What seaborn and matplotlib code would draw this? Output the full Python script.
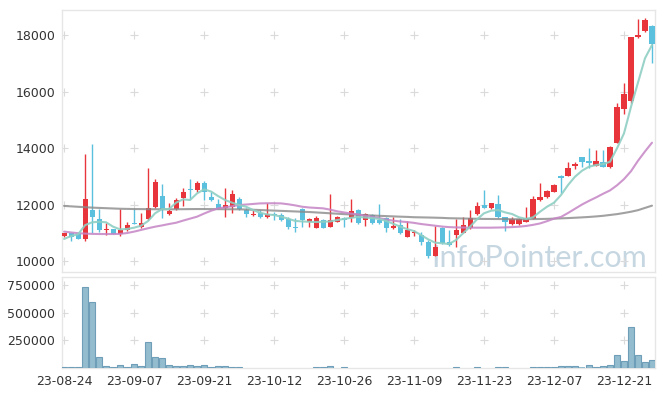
import numpy as np
import pandas as pd
import matplotlib
matplotlib.use("Agg")
import matplotlib.pyplot as plt
import seaborn as sns

# daily candles 23-08-24 ~ 23-12-28 (85 trading days)
open_ = [10880, 10980, 10960, 10780, 11800, 11490, 11100, 11130, 10950, 11080,
         11340, 11215, 11480, 11920, 12300, 11670, 11830, 12240, 12550, 12520,
         12760, 12250, 12020, 11890, 11920, 12190, 11810, 11620, 11690, 11570,
         11660, 11630, 11500, 11200, 11840, 11390, 11180, 11450, 11215, 11390,
         11510, 11530, 11810, 11450, 11630, 11450, 11510, 11160, 11270, 10860,
         10990, 10920, 10690, 10180, 11160, 10670, 10920, 11000, 11160, 11650,
         11970, 11865, 12020, 11550, 11300, 11300, 11390, 11490, 12160, 12255,
         12460, 13020, 13020, 13370, 13680, 13540, 13380, 13520, 13320, 14190,
         15370, 15650, 17920, 18150, 18320]
high = [11000, 11000, 10970, 13800, 14150, 11850, 11330, 11150, 11840, 11390,
        11840, 11690, 13280, 12900, 12720, 12050, 12230, 12570, 12890, 12840,
        12840, 12460, 12180, 12570, 12510, 12250, 11860, 11805, 11800, 12040,
        11750, 11700, 11570, 11510, 11890, 11510, 11590, 11470, 12360, 11600,
        11570, 12180, 11840, 11690, 11670, 12010, 11570, 11570, 11480, 11410,
        11100, 11030, 10750, 11240, 11210, 11100, 11480, 11570, 11800, 12100,
        12510, 12060, 12340, 11570, 11550, 11510, 11900, 12300, 12760, 12530,
        12720, 13040, 13490, 13520, 13700, 13990, 13930, 13930, 14060, 15580,
        16320, 17950, 18580, 18600, 18350]
low = [10850, 10700, 10780, 10700, 10980, 11040, 10930, 10940, 10880, 11050,
       11300, 11180, 11450, 11880, 11520, 11620, 11800, 11950, 12180, 12460,
       12160, 12140, 11830, 11550, 11690, 11790, 11550, 11600, 11530, 11540,
       11450, 11400, 11120, 11020, 11190, 11210, 11170, 11170, 11200, 11370,
       11190, 11370, 11300, 11250, 11300, 11320, 11020, 11130, 10940, 10840,
       10880, 10570, 10100, 10170, 10600, 10540, 10500, 10980, 11140, 11620,
       11860, 11850, 11520, 11070, 11280, 11280, 11370, 11470, 12140, 12230,
       12440, 12400, 13000, 13250, 13320, 13280, 13360, 13330, 13300, 14170,
       15200, 15600, 17900, 18120, 17000]
close = [10980, 10840, 10790, 12200, 11570, 11100, 11140, 10950, 11100, 11270,
         11320, 11335, 11860, 12790, 11830, 11780, 12160, 12440, 12520, 12760,
         12440, 12160, 11860, 11990, 12370, 11830, 11650, 11640, 11570, 11665,
         11620, 11450, 11190, 11180, 11450, 11480, 11530, 11180, 11450, 11550,
         11450, 11770, 11340, 11650, 11330, 11340, 11160, 11250, 10980, 11100,
         11030, 10690, 10180, 10480, 10630, 10560, 11100, 11270, 11510, 11950,
         11880, 12040, 11550, 11390, 11490, 11480, 11510, 12200, 12255, 12480,
         12690, 12950, 13290, 13430, 13500, 13480, 13550, 13340, 14050, 15460,
         15910, 17920, 18000, 18530, 17670]
volume = [10000, 10000, 10000, 734000, 598000, 102000, 21000, 12000, 30000, 12000,
          39000, 21000, 237000, 102000, 93000, 30000, 18000, 18000, 30000, 21000,
          30000, 12000, 21000, 21000, 12000, 12000, 3000, 3000, 3000, 3000,
          3000, 3000, 3000, 3000, 3000, 3000, 12000, 12000, 21000, 4000,
          12000, 3000, 3000, 3000, 3000, 3000, 3000, 3000, 3000, 3000,
          3000, 3000, 3000, 3000, 3000, 3000, 12000, 3000, 3000, 12000,
          3000, 3000, 12000, 12000, 3000, 3000, 3000, 12000, 12000, 12000,
          12000, 21000, 21000, 21000, 6000, 30000, 12000, 21000, 30000, 117000,
          66000, 367000, 117000, 57000, 75000]

# moving averages as drawn
ma5 = [10780, 10885, 10945, 11270, 11370, 11390, 11370, 11215, 11120, 11133,
       11180, 11250, 11416, 11690, 11840, 11840, 12065, 12184, 12160, 12395,
       12537, 12460, 12300, 12160, 12065, 11982, 11922, 11805, 11710, 11650,
       11628, 11570, 11500, 11420, 11400, 11390, 11380, 11390, 11400, 11450,
       11490, 11530, 11560, 11540, 11520, 11490, 11420, 11320, 11220, 11130,
       11060, 10920, 10770, 10650, 10627, 10602, 10743, 10980, 11215, 11476,
       11690, 11780, 11805, 11722, 11664, 11547, 11490, 11547, 11745, 11922,
       12065, 12336, 12690, 12985, 13197, 13340, 13400, 13430, 13515, 13990,
       14520, 15460, 16320, 17180, 17650]
ma20 = [11040, 11010, 10985, 10970, 10960, 10955, 10955, 10955, 10960, 10990,
        11040, 11100, 11160, 11215, 11260, 11310, 11355, 11430, 11500, 11570,
        11680, 11780, 11865, 11900, 11940, 11982, 12000, 12020, 12040, 12045,
        12045, 12040, 12010, 11970, 11922, 11895, 11880, 11865, 11820, 11760,
        11720, 11680, 11650, 11600, 11560, 11520, 11470, 11430, 11400, 11380,
        11350, 11310, 11280, 11250, 11220, 11200, 11190, 11185, 11180, 11180,
        11180, 11180, 11185, 11190, 11200, 11215, 11240, 11280, 11330, 11410,
        11500, 11560, 11700, 11850, 12000, 12130, 12250, 12380, 12500, 12680,
        12900, 13180, 13550, 13880, 14190]
ma60 = [11950, 11935, 11920, 11905, 11890, 11880, 11870, 11860, 11850, 11845,
        11840, 11838, 11835, 11833, 11832, 11830, 11832, 11835, 11838, 11840,
        11840, 11838, 11836, 11834, 11832, 11830, 11822, 11815, 11805, 11795,
        11785, 11775, 11765, 11755, 11745, 11735, 11720, 11705, 11690, 11675,
        11660, 11648, 11636, 11624, 11612, 11600, 11590, 11580, 11570, 11562,
        11550, 11545, 11540, 11534, 11527, 11515, 11510, 11505, 11500, 11495,
        11490, 11488, 11486, 11484, 11480, 11478, 11480, 11484, 11488, 11492,
        11500, 11510, 11520, 11532, 11545, 11560, 11578, 11600, 11630, 11660,
        11700, 11745, 11800, 11880, 11960]

tick_pos = [0, 10, 20, 30, 40, 50, 60, 70, 80]
tick_labels = ["23-08-24", "23-09-07", "23-09-21", "23-10-12", "23-10-26",
               "23-11-09", "23-11-23", "23-12-07", "23-12-21"]
price_ticks = [10000, 12000, 14000, 16000, 18000]
vol_ticks = [250000, 500000, 750000]

sns.set_theme(style="white")
plt.rcParams['font.family'] = ['DejaVu Sans']

RED = "#e8353b"
BLUE = "#5bc0de"
EDGE = "#e6e6e6"
TXT = "#333333"

fig = plt.figure(figsize=(6.65, 3.96), dpi=100)
ax = fig.add_axes([62/665, 1-272/396, 593/665, 262/396])
axv = fig.add_axes([62/665, 1-368/396, 593/665, 91/396])

o = np.array(open_); c = np.array(close); h = np.array(high); l = np.array(low)
idx = np.arange(len(o))
cols = np.where(c >= o, RED, BLUE)

# 캔들
ax.vlines(idx, l, h, colors=cols, linewidth=1.0, zorder=3)
body = np.maximum(np.abs(c - o), 40)
ax.bar(idx, body, bottom=np.minimum(o, c), width=0.72, color=cols, linewidth=0, zorder=3)

ma = pd.DataFrame({"idx": idx, "ma5": ma5, "ma20": ma20, "ma60": ma60})
sns.lineplot(data=ma, x="idx", y="ma60", color="#8a8a8a", lw=1.5, alpha=0.8, ax=ax, zorder=4)
sns.lineplot(data=ma, x="idx", y="ma20", color="#c585c5", lw=1.5, alpha=0.85, ax=ax, zorder=4)
sns.lineplot(data=ma, x="idx", y="ma5", color="#8fcfc3", lw=1.5, alpha=0.9, ax=ax, zorder=4)

ax.text(0.9865, 0.02, "InfoPointer.com", transform=ax.transAxes, ha="right", va="baseline",
        fontsize=22, color="#c6d7e2", family="Lato", zorder=1)

# 거래량
vol = pd.DataFrame({"idx": idx, "volume": volume})
sns.barplot(data=vol, x="idx", y="volume", native_scale=True, color="#94bccf",
            edgecolor="#6f9fb8", linewidth=0.8, saturation=1, width=0.95, ax=axv, zorder=3)
for p in axv.patches:
    if p.get_height() < 8000:
        p.set_linewidth(0)

# grid crosses
for a, yt in [(ax, price_ticks), (axv, vol_ticks)]:
    gx, gy = np.meshgrid(tick_pos, yt)
    a.scatter(gx.ravel(), gy.ravel(), marker="+", s=28, c="#dadada", linewidths=0.8, zorder=1)

for a in (ax, axv):
    a.set_xlim(-0.3, 84.43)
    a.set_xlabel("")
    a.set_ylabel("")
    for s in a.spines.values():
        s.set_color(EDGE)
        s.set_linewidth(1)
    a.tick_params(length=0, labelsize=9, colors=TXT, pad=5)

ax.set_ylim(9610, 18890)
ax.set_yticks(price_ticks)
ax.set_yticklabels([str(v) for v in price_ticks])
ax.set_xticks(tick_pos)
ax.tick_params(labelbottom=False)

axv.set_ylim(0, 822000)
axv.set_yticks(vol_ticks)
axv.set_yticklabels([str(v) for v in vol_ticks])
axv.set_xticks(tick_pos)
axv.set_xticklabels(tick_labels)

fig.savefig("out.png", dpi=100)
